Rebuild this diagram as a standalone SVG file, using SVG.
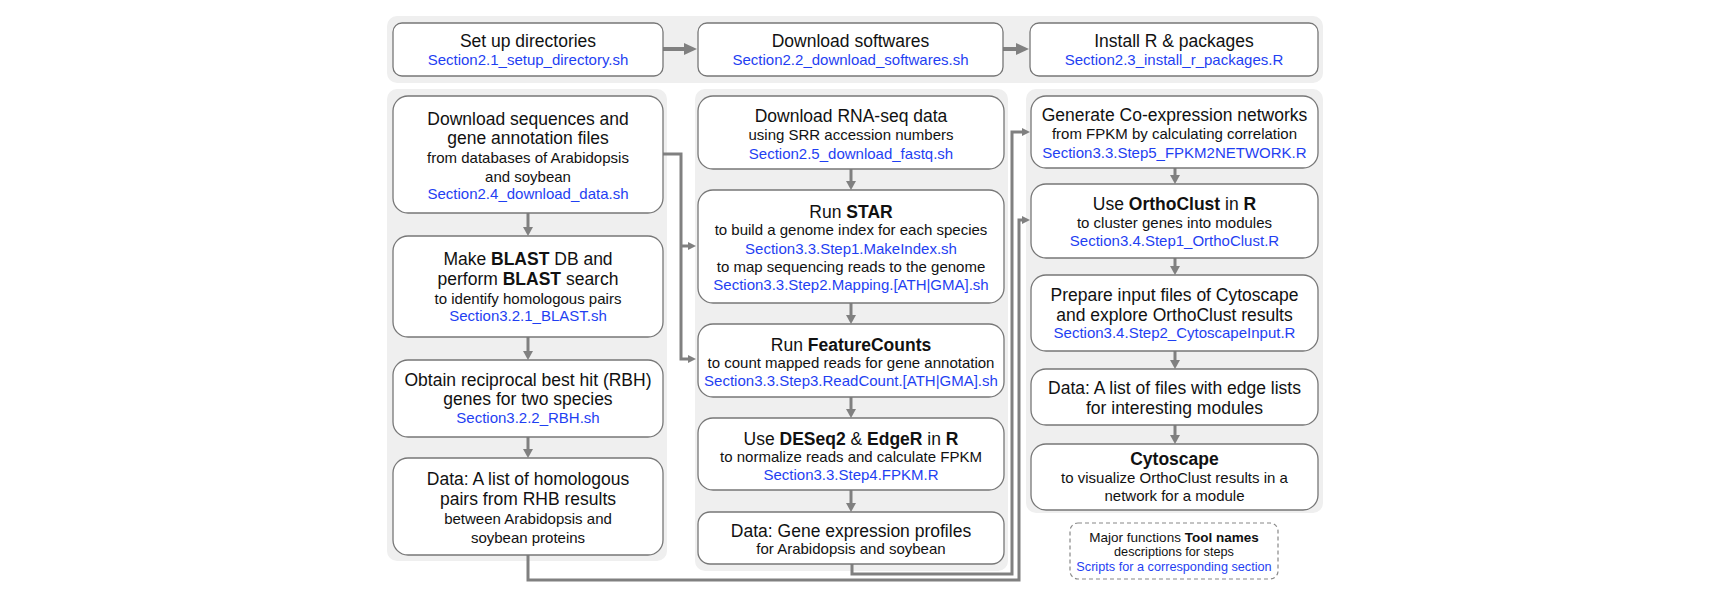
<svg xmlns="http://www.w3.org/2000/svg" width="1712" height="599" viewBox="0 0 1712 599">
<style>
.panel{fill:#efefef}
.node{fill:#fff;stroke:#777;stroke-width:1.3}
.t{font-family:"Liberation Sans",Arial,sans-serif;font-size:17.5px;fill:#111;text-anchor:middle}
.s{font-size:15px}
.bl{fill:#1f3ff2}
.bd{font-weight:bold}
.c{stroke:#808080;stroke-width:3;fill:none}
.ct{stroke:#808080;stroke-width:4;fill:none}
.lg{fill:none;stroke:#888;stroke-width:1.2;stroke-dasharray:4 3}
</style>
<defs>
<marker id="ah" markerUnits="userSpaceOnUse" markerWidth="9" markerHeight="10" refX="2" refY="5" orient="auto"><path d="M0,0 L9,5 L0,10 z" fill="#808080"/></marker>
<marker id="ahs" markerUnits="userSpaceOnUse" markerWidth="8" markerHeight="8" refX="2" refY="4" orient="auto"><path d="M0,0 L8,4 L0,8 z" fill="#808080"/></marker>
<marker id="ahb" markerUnits="userSpaceOnUse" markerWidth="13" markerHeight="12" refX="2" refY="6" orient="auto"><path d="M0,0 L13,6 L0,12 z" fill="#808080"/></marker>
</defs>
<rect width="1712" height="599" fill="#fff"/>
<g id="panels">
<rect class="panel" x="387" y="16" width="936" height="67" rx="10"/>
<rect class="panel" x="387" y="89" width="280" height="472" rx="10"/>
<rect class="panel" x="695" y="89" width="313" height="482" rx="10"/>
<rect class="panel" x="1026" y="89" width="297" height="424" rx="10"/>
</g>
<g id="connectors">
<line class="ct" x1="663" y1="49" x2="686" y2="49" marker-end="url(#ahb)"/>
<line class="ct" x1="1003" y1="49" x2="1018" y2="49" marker-end="url(#ahb)"/>
<line class="c" x1="528" y1="213" x2="528" y2="229" marker-end="url(#ah)"/>
<line class="c" x1="528" y1="337" x2="528" y2="353" marker-end="url(#ah)"/>
<line class="c" x1="528" y1="437" x2="528" y2="451" marker-end="url(#ah)"/>
<path class="c" d="M663,154 H681 V359 H690" marker-end="url(#ahs)"/>
<path class="c" d="M681,246 H690" marker-end="url(#ahs)"/>
<line class="c" x1="851" y1="169" x2="851" y2="183" marker-end="url(#ah)"/>
<line class="c" x1="851" y1="303" x2="851" y2="317" marker-end="url(#ah)"/>
<line class="c" x1="851" y1="397" x2="851" y2="411" marker-end="url(#ah)"/>
<line class="c" x1="851" y1="490" x2="851" y2="505" marker-end="url(#ah)"/>
<line class="c" x1="1175" y1="168" x2="1175" y2="177" marker-end="url(#ah)"/>
<line class="c" x1="1175" y1="258" x2="1175" y2="268" marker-end="url(#ah)"/>
<line class="c" x1="1175" y1="351" x2="1175" y2="362" marker-end="url(#ah)"/>
<line class="c" x1="1175" y1="425" x2="1175" y2="437" marker-end="url(#ah)"/>
<path class="c" d="M852,564 V574 H1012 V132 H1024" marker-end="url(#ahs)"/>
<path class="c" d="M528,555 V580 H1019 V220 H1024" marker-end="url(#ahs)"/>
</g>
<g id="n-setup">
<rect class="node" x="393" y="23" width="270" height="53" rx="9"/>
<text class="t" x="528" y="47">Set up directories</text>
<text class="t s bl" x="528" y="65">Section2.1_setup_directory.sh</text>
</g>
<g id="n-download-soft">
<rect class="node" x="698" y="23" width="305" height="53" rx="9"/>
<text class="t" x="850.5" y="47">Download softwares</text>
<text class="t s bl" x="850.5" y="65">Section2.2_download_softwares.sh</text>
</g>
<g id="n-install-r">
<rect class="node" x="1030" y="23" width="288" height="53" rx="9"/>
<text class="t" x="1174" y="47">Install R &amp; packages</text>
<text class="t s bl" x="1174" y="65">Section2.3_install_r_packages.R</text>
</g>
<g id="n-download-seq">
<rect class="node" x="393" y="96" width="270" height="117" rx="15"/>
<text class="t" x="528" y="125">Download sequences and</text>
<text class="t" x="528" y="144">gene annotation files</text>
<text class="t s" x="528" y="163">from databases of Arabidopsis</text>
<text class="t s" x="528" y="182">and soybean</text>
<text class="t s bl" x="528" y="199">Section2.4_download_data.sh</text>
</g>
<g id="n-blast">
<rect class="node" x="393" y="236" width="270" height="101" rx="15"/>
<text class="t" x="528" y="265">Make <tspan class="bd">BLAST</tspan> DB and</text>
<text class="t" x="528" y="285">perform <tspan class="bd">BLAST</tspan> search</text>
<text class="t s" x="528" y="304">to identify homologous pairs</text>
<text class="t s bl" x="528" y="321">Section3.2.1_BLAST.sh</text>
</g>
<g id="n-rbh">
<rect class="node" x="393" y="360" width="270" height="77" rx="15"/>
<text class="t" x="528" y="386">Obtain reciprocal best hit (RBH)</text>
<text class="t" x="528" y="405">genes for two species</text>
<text class="t s bl" x="528" y="423">Section3.2.2_RBH.sh</text>
</g>
<g id="n-data-homologous">
<rect class="node" x="393" y="458" width="270" height="97" rx="15"/>
<text class="t" x="528" y="485">Data: A list of homologous</text>
<text class="t" x="528" y="505">pairs from RHB results</text>
<text class="t s" x="528" y="524">between Arabidopsis and</text>
<text class="t s" x="528" y="543">soybean proteins</text>
</g>
<g id="n-rnaseq">
<rect class="node" x="698" y="96" width="306" height="73" rx="15"/>
<text class="t" x="851" y="122">Download RNA-seq data</text>
<text class="t s" x="851" y="140">using SRR accession numbers</text>
<text class="t s bl" x="851" y="159">Section2.5_download_fastq.sh</text>
</g>
<g id="n-star">
<rect class="node" x="698" y="190" width="306" height="113" rx="15"/>
<text class="t" x="851" y="218">Run <tspan class="bd">STAR</tspan></text>
<text class="t s" x="851" y="235">to build a genome index for each species</text>
<text class="t s bl" x="851" y="254">Section3.3.Step1.MakeIndex.sh</text>
<text class="t s" x="851" y="272">to map sequencing reads to the genome</text>
<text class="t s bl" x="851" y="290">Section3.3.Step2.Mapping.[ATH|GMA].sh</text>
</g>
<g id="n-featurecounts">
<rect class="node" x="698" y="324" width="306" height="73" rx="15"/>
<text class="t" x="851" y="351">Run <tspan class="bd">FeatureCounts</tspan></text>
<text class="t s" x="851" y="368">to count mapped reads for gene annotation</text>
<text class="t s bl" x="851" y="386">Section3.3.Step3.ReadCount.[ATH|GMA].sh</text>
</g>
<g id="n-deseq">
<rect class="node" x="698" y="418" width="306" height="72" rx="15"/>
<text class="t" x="851" y="445">Use <tspan class="bd">DESeq2</tspan> &amp; <tspan class="bd">EdgeR</tspan> in <tspan class="bd">R</tspan></text>
<text class="t s" x="851" y="462">to normalize reads and calculate FPKM</text>
<text class="t s bl" x="851" y="480">Section3.3.Step4.FPKM.R</text>
</g>
<g id="n-data-expression">
<rect class="node" x="698" y="512" width="306" height="52" rx="12"/>
<text class="t" x="851" y="537">Data: Gene expression profiles</text>
<text class="t s" x="851" y="554">for Arabidopsis and soybean</text>
</g>
<g id="n-coexpression">
<rect class="node" x="1031" y="96" width="287" height="72" rx="15"/>
<text class="t" x="1174.5" y="121">Generate Co-expression networks</text>
<text class="t s" x="1174.5" y="139">from FPKM by calculating correlation</text>
<text class="t s bl" x="1174.5" y="158">Section3.3.Step5_FPKM2NETWORK.R</text>
</g>
<g id="n-orthoclust">
<rect class="node" x="1031" y="184" width="287" height="74" rx="15"/>
<text class="t" x="1174.5" y="210">Use <tspan class="bd">OrthoClust</tspan> in <tspan class="bd">R</tspan></text>
<text class="t s" x="1174.5" y="228">to cluster genes into modules</text>
<text class="t s bl" x="1174.5" y="246">Section3.4.Step1_OrthoClust.R</text>
</g>
<g id="n-cytoscape-input">
<rect class="node" x="1031" y="275" width="287" height="76" rx="15"/>
<text class="t" x="1174.5" y="301">Prepare input files of Cytoscape</text>
<text class="t" x="1174.5" y="321">and explore OrthoClust results</text>
<text class="t s bl" x="1174.5" y="338">Section3.4.Step2_CytoscapeInput.R</text>
</g>
<g id="n-data-edges">
<rect class="node" x="1031" y="369" width="287" height="56" rx="15"/>
<text class="t" x="1174.5" y="394">Data: A list of files with edge lists</text>
<text class="t" x="1174.5" y="414">for interesting modules</text>
</g>
<g id="n-cytoscape">
<rect class="node" x="1031" y="444" width="287" height="66" rx="15"/>
<text class="t bd" x="1174.5" y="465">Cytoscape</text>
<text class="t s" x="1174.5" y="483">to visualize OrthoClust results in a</text>
<text class="t s" x="1174.5" y="501">network for a module</text>
</g>
<g id="legend">
<rect class="lg" x="1070" y="523" width="208" height="56" rx="8"/>
<text class="t" style="font-size:13.5px" x="1174" y="542">Major functions <tspan class="bd">Tool names</tspan></text>
<text class="t" style="font-size:12.7px" x="1174" y="556">descriptions for steps</text>
<text class="t bl" style="font-size:12.7px" x="1174" y="571">Scripts for a corresponding section</text>
</g>
</svg>
